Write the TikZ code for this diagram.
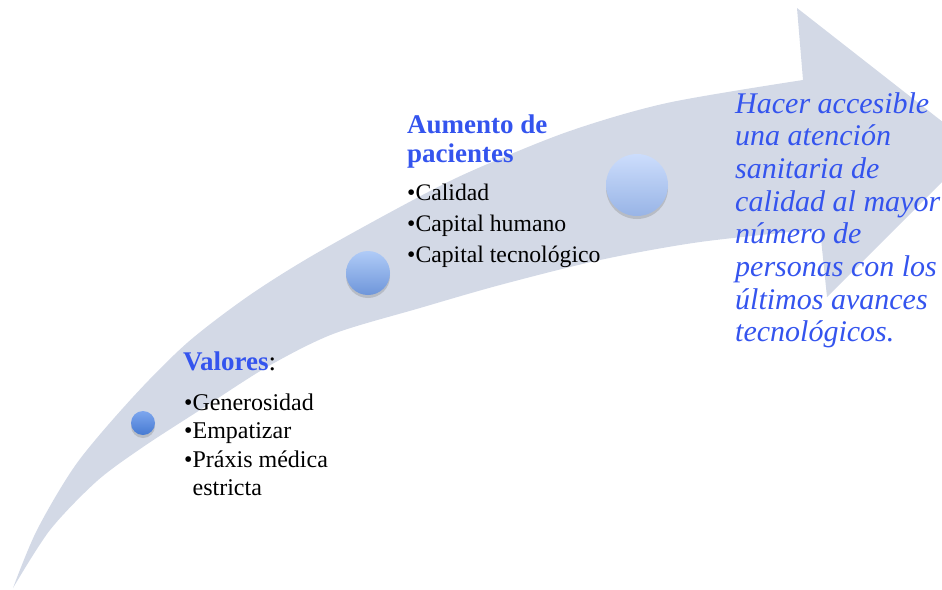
\documentclass[tikz,border=0pt]{standalone}
\usepackage{fontspec}
\setmainfont{Liberation Serif}
\usetikzlibrary{shadows}
\definecolor{arrowfill}{RGB}{211,217,230}
\definecolor{txtblue}{RGB}{52,84,238}
\definecolor{s1top}{RGB}{125,166,238}
\definecolor{s1bot}{RGB}{70,122,210}
\definecolor{s2top}{RGB}{176,203,247}
\definecolor{s2bot}{RGB}{110,150,218}
\definecolor{s3top}{RGB}{204,221,252}
\definecolor{s3bot}{RGB}{152,180,230}
\tikzset{
  dot/.style={circle, inner sep=0pt, draw=none,
    drop shadow={shadow xshift=0pt, shadow yshift=-3pt, opacity=0.25, fill=black!60}},
  txt/.style={inner sep=0pt, anchor=base west, align=left},
}
\begin{document}
\begin{tikzpicture}[x=1pt,y=-1pt]
\useasboundingbox (0,0) rectangle (942,589);
\clip (0,0) rectangle (942,589);
% big curved arrow
\fill[arrowfill] (13,588)
  -- plot[smooth] coordinates {(13,588) (37,530) (77,463) (133,397) (187,343) (247,297) (310,257) (400,207) (467,173) (567,132) (667,103) (803,80)}
  -- (797,8) -- (976,148) -- (827,297) -- (820,229)
  -- plot[smooth] coordinates {(820,229) (700,242) (600,260) (500,285) (420,308) (333,334) (267,367) (200,410) (143,447) (97,481) (50,530) (13,588)}
  -- cycle;
% circles
\node[dot, minimum size=24pt, top color=s1top, bottom color=s1bot] (c1) at (143,423) {};
\node[dot, minimum size=44pt, top color=s2top, bottom color=s2bot] (c2) at (368,273) {};
\node[dot, minimum size=62pt, top color=s3top, bottom color=s3bot] (c3) at (637,185) {};
% texts (anchor = baseline of the last line)
\node[txt, font=\fontsize{27}{30}\selectfont] (valores) at (183,370)
  {\textbf{\textcolor{txtblue}{Valores}}:};
\node[txt, font=\fontsize{24}{28.5}\selectfont] (lista1) at (184,495.5)
  {•Generosidad\\ •Empatizar\\ •Práxis médica\\ \phantom{•}estricta};
\node[txt, font=\fontsize{27}{29}\selectfont\bfseries, text=txtblue] (aumento) at (407,162)
  {Aumento de\\ pacientes};
\node[txt, font=\fontsize{23.7}{31}\selectfont] (lista2) at (407,262)
  {•Calidad\\ •Capital humano\\ •Capital tecnológico};
\node[txt, font=\fontsize{30}{32.7}\selectfont\itshape, text=txtblue] (meta) at (735,341.9)
  {Hacer accesible\\ una atención\\ sanitaria de\\ calidad al mayor\\ número de\\ personas con los\\ últimos avances\\ tecnológicos.};
\end{tikzpicture}
\end{document}
